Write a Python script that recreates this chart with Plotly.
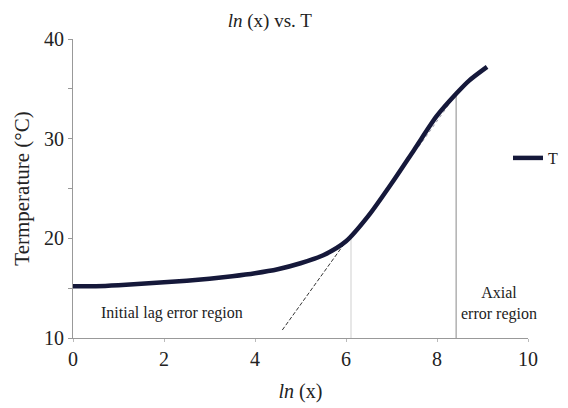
import plotly.graph_objects as go

# Temperature response against ln(x)
ln_x = [0.0, 0.5, 1.0, 1.5, 2.0, 2.5, 3.0, 3.5, 4.0, 4.5, 5.0, 5.5, 6.0,
        6.5, 7.0, 7.5, 8.0, 8.42, 8.7, 9.1]
temp = [15.2, 15.2, 15.3, 15.45, 15.6, 15.75, 15.95, 16.2, 16.5, 16.9, 17.5,
        18.3, 19.7, 22.3, 25.5, 28.9, 32.3, 34.5, 35.8, 37.2]

# Tangent through the start of the linear part
tangent_x = [4.6, 6.11]
tangent_y = [10.8, 20.4]

# Faint fitted segment along the linear part
fit_x = [7.6, 8.35]
fit_y = [29.2, 34.0]

# Region boundaries
lag_limit_x = 6.11
lag_limit_y = 20.4
axial_limit_x = 8.42
axial_limit_y = 34.5

y_tick_vals = [10, 15, 20, 25, 30, 35, 40]
y_tick_text = ["10", "", "20", "", "30", "", "40"]
x_tick_vals = [0, 2, 4, 6, 8, 10]

FONT = "Liberation Serif"

fig = go.Figure()

fig.add_trace(go.Scatter(
    x=[lag_limit_x, lag_limit_x], y=[10, lag_limit_y], mode="lines",
    line=dict(color="#cfcfcf", width=1), showlegend=False, hoverinfo="skip"))
fig.add_trace(go.Scatter(
    x=[axial_limit_x, axial_limit_x], y=[10, axial_limit_y], mode="lines",
    line=dict(color="#8a8a8a", width=1), showlegend=False, hoverinfo="skip"))
fig.add_trace(go.Scatter(
    x=tangent_x, y=tangent_y, mode="lines",
    line=dict(color="#333333", width=1, dash="4px,2px"),
    showlegend=False, hoverinfo="skip"))
fig.add_trace(go.Scatter(
    x=fit_x, y=fit_y, mode="lines",
    line=dict(color="#9a9aa8", width=1, dash="dot"),
    showlegend=False, hoverinfo="skip"))

fig.add_trace(go.Scatter(
    x=ln_x, y=temp, mode="lines", name="T",
    line=dict(color="#15183a", width=4.5, shape="spline", smoothing=0.8)))

fig.add_annotation(x=2.18, y=12.5, text="Initial lag error region",
                   showarrow=False, font=dict(family=FONT, size=16, color="#222"))
fig.add_annotation(x=9.36, y=13.45, text="Axial<br>error region",
                   showarrow=False, font=dict(family=FONT, size=16, color="#222"))

fig.update_layout(
    width=568, height=408,
    margin=dict(l=73, r=40, t=39, b=70, autoexpand=False),
    paper_bgcolor="white", plot_bgcolor="white",
    font=dict(family=FONT, size=20, color="#222"),
    title=dict(text="<i>ln</i> (x) vs. T", x=0.475, xref="container",
               xanchor="center",
               y=1 - 20 / 408, yref="container", yanchor="middle",
               font=dict(family=FONT, size=19, color="#222")),
    legend=dict(x=0.956, y=0.602, xanchor="left", yanchor="middle",
                font=dict(family=FONT, size=16, color="#222"),
                bgcolor="rgba(0,0,0,0)"),
    showlegend=True,
)

fig.update_xaxes(
    range=[0, 10], tickvals=x_tick_vals, showgrid=False, zeroline=False,
    showline=True, linecolor="#999", linewidth=1,
    ticks="outside", ticklen=3, tickcolor="#bbb",
    tickfont=dict(family=FONT, size=20),
    title=dict(text="<i>ln</i> (x)", font=dict(family=FONT, size=20), standoff=14))
fig.update_yaxes(
    range=[10, 40], tickvals=y_tick_vals, ticktext=y_tick_text,
    showgrid=False, zeroline=False,
    showline=True, linecolor="#999", linewidth=1,
    ticks="outside", ticklen=4, tickcolor="#999",
    tickfont=dict(family=FONT, size=20),
    title=dict(text="Termperature (°C)", font=dict(family=FONT, size=21), standoff=8))

fig.write_html("out.html")
